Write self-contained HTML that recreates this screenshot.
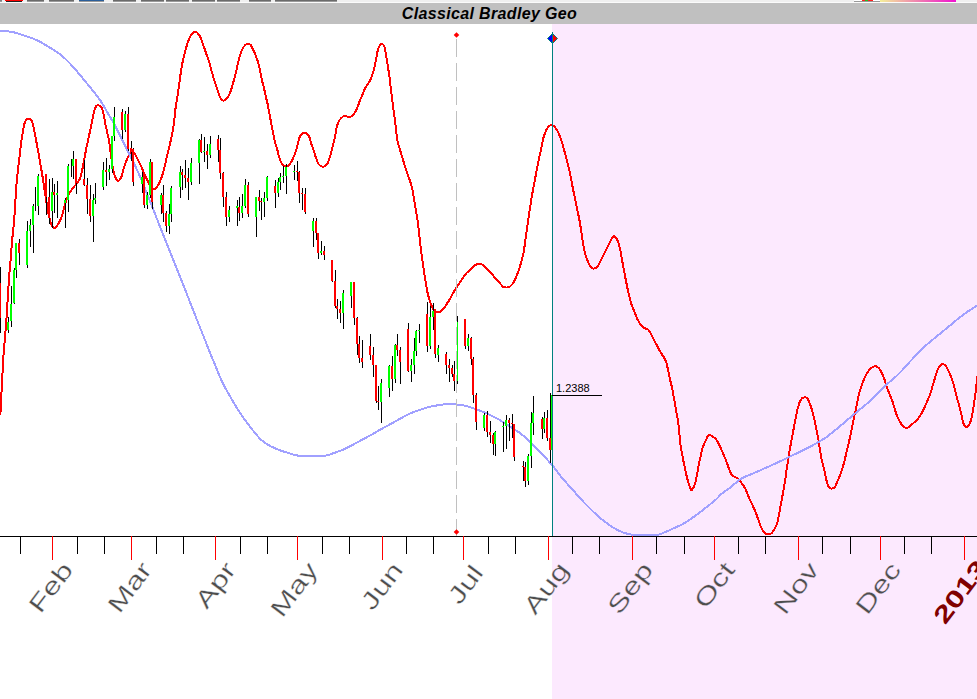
<!DOCTYPE html>
<html><head><meta charset="utf-8"><title>Classical Bradley Geo</title><style>
html,body{margin:0;padding:0;background:#fff;}
body{width:977px;height:699px;overflow:hidden;position:relative;font-family:"Liberation Sans",sans-serif;}
svg{position:absolute;left:0;top:0;display:block;}
</style></head><body>
<svg width="977" height="699" viewBox="0 0 977 699">
<g shape-rendering="crispEdges">
<rect x="0" y="0" width="977" height="2" fill="#f0f0f0"/>
<rect x="0" y="2" width="977" height="1" fill="#fbfbfb"/>
<rect x="0" y="3" width="977" height="21" fill="#c0c0c0"/>
<rect x="552" y="24" width="425" height="675" fill="#fce9fe"/>
<rect x="0" y="0" width="2" height="1" fill="#808080"/>
<rect x="0" y="1" width="2" height="1" fill="#9a9a9a"/>
<rect x="5" y="0" width="18" height="1" fill="#ff0000"/>
<rect x="6" y="1" width="16" height="1" fill="#222"/>
<rect x="27" y="0" width="17" height="1" fill="#6a6a6a"/>
<rect x="27" y="1" width="17" height="1" fill="#9a9a9a"/>
<rect x="49" y="0" width="25" height="1" fill="#6a6a6a"/>
<rect x="49" y="1" width="25" height="1" fill="#9a9a9a"/>
<rect x="79" y="0" width="25" height="1" fill="#2a5e9a"/>
<rect x="79" y="1" width="25" height="1" fill="#9a9a9a"/>
<rect x="113" y="0" width="23" height="1" fill="#6a6a6a"/>
<rect x="113" y="1" width="23" height="1" fill="#9a9a9a"/>
<rect x="141" y="0" width="23" height="1" fill="#6a6a6a"/>
<rect x="141" y="1" width="23" height="1" fill="#9a9a9a"/>
<rect x="166" y="0" width="23" height="1" fill="#6a6a6a"/>
<rect x="166" y="1" width="23" height="1" fill="#9a9a9a"/>
<rect x="192" y="0" width="23" height="1" fill="#6a6a6a"/>
<rect x="192" y="1" width="23" height="1" fill="#9a9a9a"/>
<rect x="217" y="0" width="23" height="1" fill="#6a6a6a"/>
<rect x="217" y="1" width="23" height="1" fill="#9a9a9a"/>
<rect x="249" y="0" width="22" height="1" fill="#6a6a6a"/>
<rect x="249" y="1" width="22" height="1" fill="#9a9a9a"/>
<rect x="275" y="0" width="62" height="1" fill="#6a6a6a"/>
<rect x="275" y="1" width="62" height="1" fill="#9a9a9a"/>
<rect x="854" y="0" width="26" height="2" fill="#fff"/>
<rect x="854" y="1" width="26" height="1" fill="#999"/>
<rect x="862" y="0" width="11" height="1" fill="#ff2020"/>
<rect x="865" y="0" width="3" height="1" fill="#20c020"/>
<defs><linearGradient id="gr" x1="0" x2="1"><stop offset="0" stop-color="#f4f09a"/><stop offset="0.5" stop-color="#f080b0"/><stop offset="1" stop-color="#f010d0"/></linearGradient></defs>
<rect x="880" y="0" width="76" height="2" fill="url(#gr)"/>
</g>
<text x="489.5" y="18.6" text-anchor="middle" font-family="Liberation Sans" font-weight="bold" font-style="italic" font-size="16" letter-spacing="0.35" fill="#000">Classical Bradley Geo</text>
<path d="M0.00,415.20 C0.07,414.97 0.22,416.53 0.40,413.80 C0.58,411.07 0.82,404.17 1.10,398.80 C1.38,393.43 1.75,388.07 2.10,381.60 C2.45,375.13 2.77,366.80 3.20,360.00 C3.63,353.20 4.17,347.57 4.70,340.80 C5.23,334.03 5.93,325.83 6.40,319.40 C6.87,312.97 7.13,307.93 7.50,302.20 C7.87,296.47 8.23,290.37 8.60,285.00 C8.97,279.63 9.32,274.78 9.70,270.00 C10.08,265.22 10.55,260.63 10.90,256.30 C11.25,251.97 11.47,247.97 11.80,244.00 C12.13,240.03 12.50,236.57 12.90,232.50 C13.30,228.43 13.80,224.68 14.20,219.60 C14.60,214.52 14.92,207.83 15.30,202.00 C15.68,196.17 16.13,189.27 16.50,184.60 C16.87,179.93 17.13,177.43 17.50,174.00 C17.87,170.57 18.30,167.37 18.70,164.00 C19.10,160.63 19.48,157.43 19.90,153.80 C20.32,150.17 20.72,145.83 21.20,142.20 C21.68,138.57 22.25,135.12 22.80,132.00 C23.35,128.88 23.90,125.60 24.50,123.50 C25.10,121.40 25.72,120.15 26.40,119.40 C27.08,118.65 27.85,119.00 28.60,119.00 C29.35,119.00 30.20,118.53 30.90,119.40 C31.60,120.27 32.17,121.90 32.80,124.20 C33.43,126.50 34.05,129.98 34.70,133.20 C35.35,136.42 36.05,140.07 36.70,143.50 C37.35,146.93 37.98,150.38 38.60,153.80 C39.22,157.22 39.80,160.55 40.40,164.00 C41.00,167.45 41.70,171.50 42.20,174.50 C42.70,177.50 43.03,179.58 43.40,182.00 C43.77,184.42 44.05,186.67 44.40,189.00 C44.75,191.33 45.15,193.75 45.50,196.00 C45.85,198.25 46.17,200.42 46.50,202.50 C46.83,204.58 47.15,206.58 47.50,208.50 C47.85,210.42 48.18,212.08 48.60,214.00 C49.02,215.92 49.50,218.17 50.00,220.00 C50.50,221.83 50.98,223.67 51.60,225.00 C52.22,226.33 52.97,227.62 53.70,228.00 C54.43,228.38 55.22,228.05 56.00,227.30 C56.78,226.55 57.65,224.80 58.40,223.50 C59.15,222.20 59.77,221.28 60.50,219.50 C61.23,217.72 62.10,215.17 62.80,212.80 C63.50,210.43 64.08,207.47 64.70,205.30 C65.32,203.13 65.82,201.65 66.50,199.80 C67.18,197.95 67.95,195.83 68.80,194.20 C69.65,192.57 70.67,191.32 71.60,190.00 C72.53,188.68 73.47,187.53 74.40,186.30 C75.33,185.07 76.27,183.85 77.20,182.60 C78.13,181.35 79.32,180.23 80.00,178.80 C80.68,177.37 80.88,175.72 81.30,174.00 C81.72,172.28 81.98,171.08 82.50,168.50 C83.02,165.92 83.77,161.85 84.40,158.50 C85.03,155.15 85.67,151.55 86.30,148.40 C86.93,145.25 87.57,142.55 88.20,139.60 C88.83,136.65 89.47,133.65 90.10,130.70 C90.73,127.75 91.37,124.98 92.00,121.90 C92.63,118.82 93.20,114.82 93.90,112.20 C94.60,109.58 95.42,107.35 96.20,106.20 C96.98,105.05 97.77,105.20 98.60,105.30 C99.43,105.40 100.42,105.50 101.20,106.80 C101.98,108.10 102.63,110.37 103.30,113.10 C103.97,115.83 104.57,120.05 105.20,123.20 C105.83,126.35 106.47,129.07 107.10,132.00 C107.73,134.93 108.45,137.65 109.00,140.80 C109.55,143.95 109.88,147.20 110.40,150.90 C110.92,154.60 111.50,159.25 112.10,163.00 C112.70,166.75 113.27,170.63 114.00,173.40 C114.73,176.17 115.67,178.42 116.50,179.60 C117.33,180.78 118.15,181.08 119.00,180.50 C119.85,179.92 120.82,178.10 121.60,176.10 C122.38,174.10 122.88,171.10 123.70,168.50 C124.52,165.90 125.57,162.88 126.50,160.50 C127.43,158.12 128.45,155.87 129.30,154.20 C130.15,152.53 130.82,150.78 131.60,150.50 C132.38,150.22 133.18,151.42 134.00,152.50 C134.82,153.58 135.40,154.88 136.50,157.00 C137.60,159.12 139.30,162.40 140.60,165.20 C141.90,168.00 142.98,170.92 144.30,173.80 C145.62,176.68 147.30,180.13 148.50,182.50 C149.70,184.87 150.58,186.88 151.50,188.00 C152.42,189.12 153.17,189.28 154.00,189.20 C154.83,189.12 155.58,188.62 156.50,187.50 C157.42,186.38 158.50,184.67 159.50,182.50 C160.50,180.33 161.58,177.42 162.50,174.50 C163.42,171.58 164.25,168.08 165.00,165.00 C165.75,161.92 166.33,158.83 167.00,156.00 C167.67,153.17 168.25,151.17 169.00,148.00 C169.75,144.83 170.70,140.90 171.50,137.00 C172.30,133.10 173.17,129.10 173.80,124.60 C174.43,120.10 174.73,114.43 175.30,110.00 C175.87,105.57 176.58,102.03 177.20,98.00 C177.82,93.97 178.48,89.45 179.00,85.80 C179.52,82.15 179.87,79.13 180.30,76.10 C180.73,73.07 181.12,70.43 181.60,67.60 C182.08,64.77 182.62,61.73 183.20,59.10 C183.78,56.47 184.38,54.45 185.10,51.80 C185.82,49.15 186.60,45.80 187.50,43.20 C188.40,40.60 189.28,38.13 190.50,36.20 C191.72,34.27 193.30,31.70 194.80,31.60 C196.30,31.50 198.08,33.33 199.50,35.60 C200.92,37.87 202.15,42.10 203.30,45.20 C204.45,48.30 205.38,51.28 206.40,54.20 C207.42,57.12 208.50,59.77 209.40,62.70 C210.30,65.63 210.98,68.82 211.80,71.80 C212.62,74.78 213.38,77.65 214.30,80.60 C215.22,83.55 216.32,86.68 217.30,89.50 C218.28,92.32 219.18,95.65 220.20,97.50 C221.22,99.35 222.20,100.57 223.40,100.60 C224.60,100.63 226.18,99.30 227.40,97.70 C228.62,96.10 229.72,93.58 230.70,91.00 C231.68,88.42 232.45,85.20 233.30,82.20 C234.15,79.20 235.03,76.12 235.80,73.00 C236.57,69.88 237.22,66.38 237.90,63.50 C238.58,60.62 239.18,58.02 239.90,55.70 C240.62,53.38 241.32,51.38 242.20,49.60 C243.08,47.82 244.23,45.88 245.20,45.00 C246.17,44.12 247.08,44.30 248.00,44.30 C248.92,44.30 249.75,43.92 250.70,45.00 C251.65,46.08 252.78,48.82 253.70,50.80 C254.62,52.78 255.38,54.67 256.20,56.90 C257.02,59.13 257.90,61.57 258.60,64.20 C259.30,66.83 259.80,69.87 260.40,72.70 C261.00,75.53 261.58,78.57 262.20,81.20 C262.82,83.83 263.48,85.87 264.10,88.50 C264.72,91.13 265.30,94.37 265.90,97.00 C266.50,99.63 267.13,101.63 267.70,104.30 C268.27,106.97 268.82,110.38 269.30,113.00 C269.78,115.62 270.12,117.40 270.60,120.00 C271.08,122.60 271.65,125.77 272.20,128.60 C272.75,131.43 273.32,134.37 273.90,137.00 C274.48,139.63 275.08,142.08 275.70,144.40 C276.32,146.72 276.98,148.63 277.60,150.90 C278.22,153.17 278.72,155.93 279.40,158.00 C280.08,160.07 280.77,161.93 281.70,163.30 C282.63,164.67 283.90,165.82 285.00,166.20 C286.10,166.58 287.22,166.42 288.30,165.60 C289.38,164.78 290.45,163.12 291.50,161.30 C292.55,159.48 293.67,157.08 294.60,154.70 C295.53,152.32 296.35,149.70 297.10,147.00 C297.85,144.30 298.33,140.67 299.10,138.50 C299.87,136.33 300.80,134.90 301.70,134.00 C302.60,133.10 303.52,133.07 304.50,133.10 C305.48,133.13 306.73,133.40 307.60,134.20 C308.47,135.00 309.05,136.20 309.70,137.90 C310.35,139.60 310.82,142.23 311.50,144.40 C312.18,146.57 313.02,148.57 313.80,150.90 C314.58,153.23 315.33,156.12 316.20,158.40 C317.07,160.68 317.85,163.22 319.00,164.60 C320.15,165.98 321.78,166.70 323.10,166.70 C324.42,166.70 325.88,165.83 326.90,164.60 C327.92,163.37 328.52,161.27 329.20,159.30 C329.88,157.33 330.38,155.13 331.00,152.80 C331.62,150.47 332.27,147.78 332.90,145.30 C333.53,142.82 334.18,140.87 334.80,137.90 C335.42,134.93 335.98,130.15 336.60,127.50 C337.22,124.85 337.77,123.53 338.50,122.00 C339.23,120.47 340.03,119.30 341.00,118.30 C341.97,117.30 343.03,116.25 344.30,116.00 C345.57,115.75 347.22,116.87 348.60,116.80 C349.98,116.73 351.28,116.83 352.60,115.60 C353.92,114.37 355.38,111.63 356.50,109.40 C357.62,107.17 358.35,104.58 359.30,102.20 C360.25,99.82 361.12,97.63 362.20,95.10 C363.28,92.57 364.55,89.30 365.80,87.00 C367.05,84.70 368.63,83.28 369.70,81.30 C370.77,79.32 371.43,77.33 372.20,75.10 C372.97,72.87 373.62,70.68 374.30,67.90 C374.98,65.12 375.70,61.38 376.30,58.40 C376.90,55.42 377.15,52.33 377.90,50.00 C378.65,47.67 379.75,45.07 380.80,44.40 C381.85,43.73 383.28,43.98 384.20,46.00 C385.12,48.02 385.68,53.08 386.30,56.50 C386.92,59.92 387.38,63.17 387.90,66.50 C388.42,69.83 388.92,72.93 389.40,76.50 C389.88,80.07 390.33,84.08 390.80,87.90 C391.27,91.72 391.73,95.58 392.20,99.40 C392.67,103.22 393.13,107.20 393.60,110.80 C394.07,114.40 394.57,117.63 395.00,121.00 C395.43,124.37 395.80,127.75 396.20,131.00 C396.60,134.25 396.95,138.00 397.40,140.50 C397.85,143.00 398.35,144.05 398.90,146.00 C399.45,147.95 400.03,149.98 400.70,152.20 C401.37,154.42 402.18,156.92 402.90,159.30 C403.62,161.68 404.27,164.12 405.00,166.50 C405.73,168.88 406.47,171.22 407.30,173.60 C408.13,175.98 409.20,178.42 410.00,180.80 C410.80,183.18 411.50,185.28 412.10,187.90 C412.70,190.52 413.12,193.63 413.60,196.50 C414.08,199.37 414.52,202.23 415.00,205.10 C415.48,207.97 416.03,210.83 416.50,213.70 C416.97,216.57 417.42,219.58 417.80,222.30 C418.18,225.02 418.43,226.72 418.80,230.00 C419.17,233.28 419.55,238.00 420.00,242.00 C420.45,246.00 421.00,250.25 421.50,254.00 C422.00,257.75 422.50,261.00 423.00,264.50 C423.50,268.00 424.00,271.75 424.50,275.00 C425.00,278.25 425.50,281.08 426.00,284.00 C426.50,286.92 426.90,289.78 427.50,292.50 C428.10,295.22 428.78,297.77 429.60,300.30 C430.42,302.83 431.50,305.82 432.40,307.70 C433.30,309.58 434.18,310.88 435.00,311.60 C435.82,312.32 436.50,311.97 437.30,312.00 C438.10,312.03 439.02,312.10 439.80,311.80 C440.58,311.50 441.30,310.82 442.00,310.20 C442.70,309.58 443.17,309.22 444.00,308.10 C444.83,306.98 446.00,305.02 447.00,303.50 C448.00,301.98 449.00,300.70 450.00,299.00 C451.00,297.30 451.92,295.25 453.00,293.30 C454.08,291.35 455.33,289.10 456.50,287.30 C457.67,285.50 458.58,284.58 460.00,282.50 C461.42,280.42 463.33,276.92 465.00,274.80 C466.67,272.68 468.33,271.42 470.00,269.80 C471.67,268.18 473.42,266.03 475.00,265.10 C476.58,264.17 478.17,264.22 479.50,264.20 C480.83,264.18 481.75,264.23 483.00,265.00 C484.25,265.77 485.67,267.50 487.00,268.80 C488.33,270.10 489.73,271.35 491.00,272.80 C492.27,274.25 493.25,275.93 494.60,277.50 C495.95,279.07 497.68,280.67 499.10,282.20 C500.52,283.73 501.85,285.82 503.10,286.70 C504.35,287.58 505.40,287.58 506.60,287.50 C507.80,287.42 509.13,287.05 510.30,286.20 C511.47,285.35 512.52,284.17 513.60,282.40 C514.68,280.63 515.80,278.07 516.80,275.60 C517.80,273.13 518.77,270.20 519.60,267.60 C520.43,265.00 521.12,262.60 521.80,260.00 C522.48,257.40 523.02,255.97 523.70,252.00 C524.38,248.03 525.05,242.20 525.90,236.20 C526.75,230.20 527.80,222.70 528.80,216.00 C529.80,209.30 530.87,202.12 531.90,196.00 C532.93,189.88 533.98,184.72 535.00,179.30 C536.02,173.88 537.00,168.48 538.00,163.50 C539.00,158.52 540.00,154.02 541.00,149.40 C542.00,144.78 542.87,139.47 544.00,135.80 C545.13,132.13 546.45,129.20 547.80,127.40 C549.15,125.60 550.60,124.60 552.10,125.00 C553.60,125.40 555.35,127.50 556.80,129.80 C558.25,132.10 559.43,134.90 560.80,138.80 C562.17,142.70 563.62,148.12 565.00,153.20 C566.38,158.28 567.78,163.42 569.10,169.30 C570.42,175.18 571.62,182.18 572.90,188.50 C574.18,194.82 575.65,201.62 576.80,207.20 C577.95,212.78 578.90,216.87 579.80,222.00 C580.70,227.13 581.45,233.25 582.20,238.00 C582.95,242.75 583.48,246.90 584.30,250.50 C585.12,254.10 586.12,256.95 587.10,259.60 C588.08,262.25 589.15,264.90 590.20,266.40 C591.25,267.90 592.13,268.63 593.40,268.60 C594.67,268.57 596.48,267.77 597.80,266.20 C599.12,264.63 600.07,261.60 601.30,259.20 C602.53,256.80 603.90,254.35 605.20,251.80 C606.50,249.25 607.92,246.22 609.10,243.90 C610.28,241.58 611.40,239.18 612.30,237.90 C613.20,236.62 613.62,235.77 614.50,236.20 C615.38,236.63 616.68,238.43 617.60,240.50 C618.52,242.57 619.32,245.68 620.00,248.60 C620.68,251.52 621.03,254.35 621.70,258.00 C622.37,261.65 623.22,266.33 624.00,270.50 C624.78,274.67 625.62,279.08 626.40,283.00 C627.18,286.92 627.90,290.58 628.70,294.00 C629.50,297.42 630.27,300.57 631.20,303.50 C632.13,306.43 633.25,308.97 634.30,311.60 C635.35,314.23 636.33,316.98 637.50,319.30 C638.67,321.62 640.02,323.98 641.30,325.50 C642.58,327.02 644.02,327.70 645.20,328.40 C646.38,329.10 647.35,328.60 648.40,329.70 C649.45,330.80 650.45,333.07 651.50,335.00 C652.55,336.93 653.65,339.30 654.70,341.30 C655.75,343.30 656.75,345.05 657.80,347.00 C658.85,348.95 659.95,351.23 661.00,353.00 C662.05,354.77 663.22,356.02 664.10,357.60 C664.98,359.18 665.65,360.47 666.30,362.50 C666.95,364.53 667.45,367.27 668.00,369.80 C668.55,372.33 668.95,374.80 669.60,377.70 C670.25,380.60 671.23,384.05 671.90,387.20 C672.57,390.35 673.05,393.67 673.60,396.60 C674.15,399.53 674.68,401.90 675.20,404.80 C675.72,407.70 676.18,410.97 676.70,414.00 C677.22,417.03 677.85,419.75 678.30,423.00 C678.75,426.25 679.07,430.17 679.40,433.50 C679.73,436.83 679.97,440.18 680.30,443.00 C680.63,445.82 681.02,448.12 681.40,450.40 C681.78,452.68 682.18,454.52 682.60,456.70 C683.02,458.88 683.45,461.28 683.90,463.50 C684.35,465.72 684.78,467.67 685.30,470.00 C685.82,472.33 686.38,475.08 687.00,477.50 C687.62,479.92 688.30,482.45 689.00,484.50 C689.70,486.55 690.50,489.22 691.20,489.80 C691.90,490.38 692.53,489.13 693.20,488.00 C693.87,486.87 694.57,485.17 695.20,483.00 C695.83,480.83 696.52,477.42 697.00,475.00 C697.48,472.58 697.73,470.63 698.10,468.50 C698.47,466.37 698.77,464.30 699.20,462.20 C699.63,460.10 700.23,458.00 700.70,455.90 C701.17,453.80 701.48,451.43 702.00,449.60 C702.52,447.77 703.17,446.43 703.80,444.90 C704.43,443.37 705.15,441.82 705.80,440.40 C706.45,438.98 707.05,437.28 707.70,436.40 C708.35,435.52 708.90,435.10 709.70,435.10 C710.50,435.10 711.58,435.85 712.50,436.40 C713.42,436.95 714.42,437.63 715.20,438.40 C715.98,439.17 716.53,439.92 717.20,441.00 C717.87,442.08 718.55,443.60 719.20,444.90 C719.85,446.20 720.40,447.23 721.10,448.80 C721.80,450.37 722.62,452.47 723.40,454.30 C724.18,456.13 725.07,457.95 725.80,459.80 C726.53,461.65 727.10,463.45 727.80,465.40 C728.50,467.35 729.22,469.82 730.00,471.50 C730.78,473.18 731.58,474.55 732.50,475.50 C733.42,476.45 734.50,476.62 735.50,477.20 C736.50,477.78 737.42,477.95 738.50,479.00 C739.58,480.05 740.88,481.90 742.00,483.50 C743.12,485.10 744.23,486.73 745.20,488.60 C746.17,490.47 746.92,492.60 747.80,494.70 C748.68,496.80 749.50,499.00 750.50,501.20 C751.50,503.40 752.82,505.73 753.80,507.90 C754.78,510.07 755.60,512.08 756.40,514.20 C757.20,516.32 757.78,518.33 758.60,520.60 C759.42,522.87 760.30,525.73 761.30,527.80 C762.30,529.87 763.45,531.92 764.60,533.00 C765.75,534.08 767.00,534.30 768.20,534.30 C769.40,534.30 770.68,534.00 771.80,533.00 C772.92,532.00 773.97,530.03 774.90,528.30 C775.83,526.57 776.72,524.92 777.40,522.60 C778.08,520.28 778.47,517.20 779.00,514.40 C779.53,511.60 780.07,508.67 780.60,505.80 C781.13,502.93 781.67,500.07 782.20,497.20 C782.73,494.33 783.28,491.58 783.80,488.60 C784.32,485.62 784.85,482.33 785.30,479.30 C785.75,476.27 786.07,473.37 786.50,470.40 C786.93,467.43 787.43,464.57 787.90,461.50 C788.37,458.43 788.83,454.83 789.30,452.00 C789.77,449.17 790.27,446.83 790.70,444.50 C791.13,442.17 791.52,440.00 791.90,438.00 C792.28,436.00 792.65,434.42 793.00,432.50 C793.35,430.58 793.67,428.37 794.00,426.50 C794.33,424.63 794.65,423.08 795.00,421.30 C795.35,419.52 795.72,417.68 796.10,415.80 C796.48,413.92 796.88,411.72 797.30,410.00 C797.72,408.28 798.13,406.97 798.60,405.50 C799.07,404.03 799.50,402.42 800.10,401.20 C800.70,399.98 801.48,398.83 802.20,398.20 C802.92,397.57 803.67,397.47 804.40,397.40 C805.13,397.33 805.95,397.37 806.60,397.80 C807.25,398.23 807.80,399.10 808.30,400.00 C808.80,400.90 809.12,401.95 809.60,403.20 C810.08,404.45 810.70,405.97 811.20,407.50 C811.70,409.03 812.13,410.67 812.60,412.40 C813.07,414.13 813.58,416.13 814.00,417.90 C814.42,419.67 814.73,421.22 815.10,423.00 C815.47,424.78 815.83,426.80 816.20,428.60 C816.57,430.40 816.92,431.90 817.30,433.80 C817.68,435.70 818.12,437.72 818.50,440.00 C818.88,442.28 819.22,444.97 819.60,447.50 C819.98,450.03 820.42,453.00 820.80,455.20 C821.18,457.40 821.53,459.02 821.90,460.70 C822.27,462.38 822.62,463.77 823.00,465.30 C823.38,466.83 823.82,468.28 824.20,469.90 C824.58,471.52 824.93,473.32 825.30,475.00 C825.67,476.68 826.02,478.40 826.40,480.00 C826.78,481.60 827.12,483.35 827.60,484.60 C828.08,485.85 828.58,486.83 829.30,487.50 C830.02,488.17 831.03,488.60 831.90,488.60 C832.77,488.60 833.78,488.23 834.50,487.50 C835.22,486.77 835.63,485.38 836.20,484.20 C836.77,483.02 837.33,481.73 837.90,480.40 C838.47,479.07 839.03,477.68 839.60,476.20 C840.17,474.72 840.73,473.17 841.30,471.50 C841.87,469.83 842.52,467.80 843.00,466.20 C843.48,464.60 843.80,463.43 844.20,461.90 C844.60,460.37 844.97,458.82 845.40,457.00 C845.83,455.18 846.33,453.00 846.80,451.00 C847.27,449.00 847.72,447.03 848.20,445.00 C848.68,442.97 849.22,440.88 849.70,438.80 C850.18,436.72 850.67,434.63 851.10,432.50 C851.53,430.37 851.92,428.00 852.30,426.00 C852.68,424.00 853.02,422.33 853.40,420.50 C853.78,418.67 854.20,416.83 854.60,415.00 C855.00,413.17 855.33,411.80 855.80,409.50 C856.27,407.20 856.83,403.92 857.40,401.20 C857.97,398.48 858.53,395.65 859.20,393.20 C859.87,390.75 860.55,388.98 861.40,386.50 C862.25,384.02 863.33,380.58 864.30,378.30 C865.27,376.02 866.15,374.45 867.20,372.80 C868.25,371.15 869.27,369.52 870.60,368.40 C871.93,367.28 873.77,366.08 875.20,366.10 C876.63,366.12 878.07,367.30 879.20,368.50 C880.33,369.70 881.15,371.55 882.00,373.30 C882.85,375.05 883.53,376.80 884.30,379.00 C885.07,381.20 885.73,384.02 886.60,386.50 C887.47,388.98 888.55,391.52 889.50,393.90 C890.45,396.28 891.45,398.37 892.30,400.80 C893.15,403.23 893.83,406.05 894.60,408.50 C895.37,410.95 895.95,413.17 896.90,415.50 C897.85,417.83 899.15,420.60 900.30,422.50 C901.45,424.40 902.65,426.02 903.80,426.90 C904.95,427.78 906.07,428.02 907.20,427.80 C908.33,427.58 909.45,426.48 910.60,425.60 C911.75,424.72 912.92,423.58 914.10,422.50 C915.28,421.42 916.60,420.38 917.70,419.10 C918.80,417.82 919.75,416.33 920.70,414.80 C921.65,413.27 922.37,412.03 923.40,409.90 C924.43,407.77 925.75,404.68 926.90,402.00 C928.05,399.32 929.25,396.83 930.30,393.80 C931.35,390.77 932.25,386.98 933.20,383.80 C934.15,380.62 935.05,377.50 936.00,374.70 C936.95,371.90 937.85,368.75 938.90,367.00 C939.95,365.25 941.15,364.37 942.30,364.20 C943.45,364.03 944.75,364.87 945.80,366.00 C946.85,367.13 947.65,369.02 948.60,371.00 C949.55,372.98 950.63,375.62 951.50,377.90 C952.37,380.18 953.12,382.27 953.80,384.70 C954.48,387.13 954.93,389.82 955.60,392.50 C956.27,395.18 957.07,398.08 957.80,400.80 C958.53,403.52 959.33,406.18 960.00,408.80 C960.67,411.42 961.20,414.00 961.80,416.50 C962.40,419.00 962.85,422.02 963.60,423.80 C964.35,425.58 965.37,427.03 966.30,427.20 C967.23,427.37 968.33,426.35 969.20,424.80 C970.07,423.25 970.73,421.15 971.50,417.90 C972.27,414.65 973.13,409.48 973.80,405.30 C974.47,401.12 975.03,396.42 975.50,392.80 C975.97,389.18 976.18,387.07 976.60,383.60 C977.02,380.13 977.77,373.93 978.00,372.00" fill="none" stroke="#ff0000" stroke-width="2" shape-rendering="crispEdges"/>
<path d="M-1.00,30.80 C-0.83,30.80 -2.22,30.60 0.00,30.80 C2.22,31.00 8.20,31.18 12.30,32.00 C16.40,32.82 20.50,34.33 24.60,35.70 C28.70,37.07 32.80,38.28 36.90,40.20 C41.00,42.12 45.35,44.87 49.20,47.20 C53.05,49.53 56.53,51.48 60.00,54.20 C63.47,56.92 66.67,60.03 70.00,63.50 C73.33,66.97 76.67,71.05 80.00,75.00 C83.33,78.95 86.67,83.03 90.00,87.20 C93.33,91.37 97.00,95.62 100.00,100.00 C103.00,104.38 105.37,109.00 108.00,113.50 C110.63,118.00 113.52,122.75 115.80,127.00 C118.08,131.25 119.75,135.08 121.70,139.00 C123.65,142.92 125.45,146.42 127.50,150.50 C129.55,154.58 131.92,159.17 134.00,163.50 C136.08,167.83 137.92,171.70 140.00,176.50 C142.08,181.30 144.33,186.92 146.50,192.30 C148.67,197.68 150.83,203.30 153.00,208.80 C155.17,214.30 157.33,219.82 159.50,225.30 C161.67,230.78 163.92,236.50 166.00,241.70 C168.08,246.90 170.00,251.48 172.00,256.50 C174.00,261.52 175.92,266.55 178.00,271.80 C180.08,277.05 182.33,282.52 184.50,288.00 C186.67,293.48 188.83,299.17 191.00,304.70 C193.17,310.23 195.33,315.73 197.50,321.20 C199.67,326.67 201.92,332.27 204.00,337.50 C206.08,342.73 208.07,347.82 210.00,352.60 C211.93,357.38 213.60,361.38 215.60,366.20 C217.60,371.02 219.93,377.07 222.00,381.50 C224.07,385.93 225.85,388.95 228.00,392.80 C230.15,396.65 232.73,401.02 234.90,404.60 C237.07,408.18 238.82,411.07 241.00,414.30 C243.18,417.53 245.63,420.85 248.00,424.00 C250.37,427.15 252.87,430.43 255.20,433.20 C257.53,435.97 259.43,438.43 262.00,440.60 C264.57,442.77 267.47,444.53 270.60,446.20 C273.73,447.87 277.40,449.33 280.80,450.60 C284.20,451.87 288.13,452.97 291.00,453.80 C293.87,454.63 294.83,455.20 298.00,455.60 C301.17,456.00 305.53,456.17 310.00,456.20 C314.47,456.23 321.13,456.22 324.80,455.80 C328.47,455.38 328.92,454.73 332.00,453.70 C335.08,452.67 340.27,450.85 343.30,449.60 C346.33,448.35 347.33,447.70 350.20,446.20 C353.07,444.70 357.08,442.43 360.50,440.60 C363.92,438.77 367.30,437.08 370.70,435.20 C374.10,433.32 377.48,431.22 380.90,429.30 C384.32,427.38 387.78,425.58 391.20,423.70 C394.62,421.82 398.00,419.80 401.40,418.00 C404.80,416.20 408.18,414.38 411.60,412.90 C415.02,411.42 418.48,410.20 421.90,409.10 C425.32,408.00 428.22,407.10 432.10,406.30 C435.98,405.50 441.30,404.63 445.20,404.30 C449.10,403.97 452.08,404.05 455.50,404.30 C458.92,404.55 462.30,404.98 465.70,405.80 C469.10,406.62 472.48,407.97 475.90,409.20 C479.32,410.43 482.78,411.72 486.20,413.20 C489.62,414.68 493.33,416.47 496.40,418.10 C499.47,419.73 502.17,421.48 504.60,423.00 C507.03,424.52 509.07,425.93 511.00,427.20 C512.93,428.47 514.62,429.57 516.20,430.60 C517.78,431.63 519.08,432.33 520.50,433.40 C521.92,434.47 523.28,435.77 524.70,437.00 C526.12,438.23 527.57,439.43 529.00,440.80 C530.43,442.17 531.87,443.75 533.30,445.20 C534.73,446.65 536.17,448.07 537.60,449.50 C539.03,450.93 540.47,452.30 541.90,453.80 C543.33,455.30 544.77,456.90 546.20,458.50 C547.63,460.10 549.03,461.72 550.50,463.40 C551.97,465.08 553.17,466.28 555.00,468.60 C556.83,470.92 558.52,473.73 561.50,477.30 C564.48,480.87 569.57,486.25 572.90,490.00 C576.23,493.75 578.63,496.70 581.50,499.80 C584.37,502.90 587.23,505.77 590.10,508.60 C592.97,511.43 595.60,514.13 598.70,516.80 C601.80,519.47 605.37,522.30 608.70,524.60 C612.03,526.90 615.82,529.13 618.70,530.60 C621.58,532.07 623.45,532.68 626.00,533.40 C628.55,534.12 630.67,534.58 634.00,534.90 C637.33,535.22 642.17,535.28 646.00,535.30 C649.83,535.32 654.33,535.32 657.00,535.00 C659.67,534.68 659.55,534.37 662.00,533.40 C664.45,532.43 668.65,530.55 671.70,529.20 C674.75,527.85 677.85,526.52 680.30,525.30 C682.75,524.08 684.15,523.32 686.40,521.90 C688.65,520.48 691.33,518.57 693.80,516.80 C696.27,515.03 698.75,513.17 701.20,511.30 C703.65,509.43 706.05,507.55 708.50,505.60 C710.95,503.65 713.65,501.63 715.90,499.60 C718.15,497.57 719.75,495.28 722.00,493.40 C724.25,491.52 727.33,489.87 729.40,488.30 C731.47,486.73 732.67,485.45 734.40,484.00 C736.13,482.55 738.00,480.83 739.80,479.60 C741.60,478.37 743.23,477.53 745.20,476.60 C747.17,475.67 749.47,474.88 751.60,474.00 C753.73,473.12 755.83,472.25 758.00,471.30 C760.17,470.35 762.45,469.25 764.60,468.30 C766.75,467.35 768.85,466.52 770.90,465.60 C772.95,464.68 774.07,464.13 776.90,462.80 C779.73,461.47 783.82,459.57 787.90,457.60 C791.98,455.63 797.10,453.13 801.40,451.00 C805.70,448.87 809.60,447.07 813.70,444.80 C817.80,442.53 821.90,440.27 826.00,437.40 C830.10,434.53 834.20,430.97 838.30,427.60 C842.40,424.23 846.75,420.43 850.60,417.20 C854.45,413.97 857.68,411.32 861.40,408.20 C865.12,405.08 869.08,402.12 872.90,398.50 C876.72,394.88 880.48,390.13 884.30,386.50 C888.12,382.87 892.62,379.62 895.80,376.70 C898.98,373.78 900.87,371.70 903.40,369.00 C905.93,366.30 908.48,363.18 911.00,360.50 C913.52,357.82 916.00,355.42 918.50,352.90 C921.00,350.38 923.50,347.72 926.00,345.40 C928.50,343.08 930.82,341.23 933.50,339.00 C936.18,336.77 939.25,334.33 942.10,332.00 C944.95,329.67 947.92,327.23 950.60,325.00 C953.28,322.77 955.52,320.73 958.20,318.60 C960.88,316.47 963.85,314.17 966.70,312.20 C969.55,310.23 973.42,307.97 975.30,306.80 C977.18,305.63 977.55,305.47 978.00,305.20" fill="none" stroke="#a0a0ff" stroke-width="2" shape-rendering="crispEdges"/>
<g shape-rendering="crispEdges">
<rect x="0" y="267" width="1" height="66" fill="#000"/>
<rect x="8" y="317" width="1" height="16" fill="#000"/>
<rect x="11" y="286" width="1" height="41" fill="#000"/>
<rect x="14" y="268" width="1" height="36" fill="#000"/>
<rect x="16" y="243" width="1" height="35" fill="#000"/>
<rect x="19" y="239" width="1" height="26" fill="#000"/>
<rect x="27" y="221" width="1" height="47" fill="#000"/>
<rect x="30" y="219" width="1" height="28" fill="#000"/>
<rect x="33" y="204" width="1" height="49" fill="#000"/>
<rect x="35" y="187" width="1" height="24" fill="#000"/>
<rect x="38" y="174" width="1" height="41" fill="#000"/>
<rect x="46" y="174" width="1" height="41" fill="#000"/>
<rect x="49" y="179" width="1" height="45" fill="#000"/>
<rect x="52" y="178" width="1" height="50" fill="#000"/>
<rect x="54" y="184" width="1" height="29" fill="#000"/>
<rect x="57" y="181" width="1" height="37" fill="#000"/>
<rect x="65" y="198" width="1" height="30" fill="#000"/>
<rect x="68" y="164" width="1" height="48" fill="#000"/>
<rect x="71" y="159" width="1" height="18" fill="#000"/>
<rect x="73" y="151" width="1" height="28" fill="#000"/>
<rect x="76" y="159" width="1" height="35" fill="#000"/>
<rect x="84" y="160" width="1" height="26" fill="#000"/>
<rect x="87" y="178" width="1" height="36" fill="#000"/>
<rect x="90" y="185" width="1" height="37" fill="#000"/>
<rect x="93" y="194" width="1" height="48" fill="#000"/>
<rect x="95" y="183" width="1" height="21" fill="#000"/>
<rect x="103" y="162" width="1" height="28" fill="#000"/>
<rect x="106" y="158" width="1" height="28" fill="#000"/>
<rect x="109" y="165" width="1" height="15" fill="#000"/>
<rect x="112" y="136" width="1" height="37" fill="#000"/>
<rect x="114" y="107" width="1" height="34" fill="#000"/>
<rect x="122" y="109" width="1" height="30" fill="#000"/>
<rect x="125" y="111" width="1" height="21" fill="#000"/>
<rect x="128" y="107" width="1" height="44" fill="#000"/>
<rect x="131" y="141" width="1" height="20" fill="#000"/>
<rect x="133" y="148" width="1" height="38" fill="#000"/>
<rect x="142" y="172" width="1" height="21" fill="#000"/>
<rect x="144" y="173" width="1" height="35" fill="#000"/>
<rect x="147" y="192" width="1" height="17" fill="#000"/>
<rect x="150" y="159" width="1" height="39" fill="#000"/>
<rect x="152" y="162" width="1" height="47" fill="#000"/>
<rect x="161" y="193" width="1" height="21" fill="#000"/>
<rect x="163" y="185" width="1" height="37" fill="#000"/>
<rect x="166" y="211" width="1" height="21" fill="#000"/>
<rect x="169" y="204" width="1" height="30" fill="#000"/>
<rect x="171" y="186" width="1" height="36" fill="#000"/>
<rect x="180" y="166" width="1" height="32" fill="#000"/>
<rect x="182" y="169" width="1" height="21" fill="#000"/>
<rect x="185" y="160" width="1" height="28" fill="#000"/>
<rect x="188" y="168" width="1" height="32" fill="#000"/>
<rect x="191" y="158" width="1" height="27" fill="#000"/>
<rect x="199" y="139" width="1" height="45" fill="#000"/>
<rect x="201" y="134" width="1" height="19" fill="#000"/>
<rect x="204" y="137" width="1" height="25" fill="#000"/>
<rect x="207" y="144" width="1" height="25" fill="#000"/>
<rect x="210" y="136" width="1" height="22" fill="#000"/>
<rect x="218" y="135" width="1" height="27" fill="#000"/>
<rect x="220" y="138" width="1" height="41" fill="#000"/>
<rect x="223" y="172" width="1" height="35" fill="#000"/>
<rect x="226" y="192" width="1" height="34" fill="#000"/>
<rect x="229" y="206" width="1" height="16" fill="#000"/>
<rect x="237" y="200" width="1" height="26" fill="#000"/>
<rect x="239" y="197" width="1" height="24" fill="#000"/>
<rect x="242" y="194" width="1" height="24" fill="#000"/>
<rect x="245" y="179" width="1" height="29" fill="#000"/>
<rect x="248" y="182" width="1" height="35" fill="#000"/>
<rect x="256" y="197" width="1" height="40" fill="#000"/>
<rect x="259" y="190" width="1" height="21" fill="#000"/>
<rect x="261" y="198" width="1" height="22" fill="#000"/>
<rect x="264" y="192" width="1" height="25" fill="#000"/>
<rect x="267" y="176" width="1" height="25" fill="#000"/>
<rect x="275" y="180" width="1" height="28" fill="#000"/>
<rect x="278" y="178" width="1" height="19" fill="#000"/>
<rect x="280" y="173" width="1" height="17" fill="#000"/>
<rect x="283" y="166" width="1" height="17" fill="#000"/>
<rect x="286" y="164" width="1" height="30" fill="#000"/>
<rect x="294" y="165" width="1" height="15" fill="#000"/>
<rect x="297" y="161" width="1" height="20" fill="#000"/>
<rect x="299" y="171" width="1" height="32" fill="#000"/>
<rect x="302" y="188" width="1" height="22" fill="#000"/>
<rect x="305" y="188" width="1" height="26" fill="#000"/>
<rect x="313" y="218" width="1" height="29" fill="#000"/>
<rect x="316" y="218" width="1" height="22" fill="#000"/>
<rect x="318" y="233" width="1" height="26" fill="#000"/>
<rect x="321" y="241" width="1" height="14" fill="#000"/>
<rect x="324" y="246" width="1" height="14" fill="#000"/>
<rect x="332" y="260" width="1" height="22" fill="#000"/>
<rect x="335" y="270" width="1" height="38" fill="#000"/>
<rect x="337" y="299" width="1" height="20" fill="#000"/>
<rect x="340" y="301" width="1" height="22" fill="#000"/>
<rect x="343" y="290" width="1" height="39" fill="#000"/>
<rect x="351" y="282" width="1" height="26" fill="#000"/>
<rect x="354" y="282" width="1" height="43" fill="#000"/>
<rect x="357" y="317" width="1" height="38" fill="#000"/>
<rect x="359" y="336" width="1" height="27" fill="#000"/>
<rect x="362" y="340" width="1" height="28" fill="#000"/>
<rect x="370" y="334" width="1" height="26" fill="#000"/>
<rect x="373" y="347" width="1" height="30" fill="#000"/>
<rect x="376" y="365" width="1" height="38" fill="#000"/>
<rect x="378" y="386" width="1" height="24" fill="#000"/>
<rect x="381" y="379" width="1" height="44" fill="#000"/>
<rect x="389" y="365" width="1" height="32" fill="#000"/>
<rect x="392" y="356" width="1" height="35" fill="#000"/>
<rect x="395" y="344" width="1" height="39" fill="#000"/>
<rect x="397" y="334" width="1" height="22" fill="#000"/>
<rect x="400" y="347" width="1" height="37" fill="#000"/>
<rect x="408" y="323" width="1" height="49" fill="#000"/>
<rect x="411" y="359" width="1" height="23" fill="#000"/>
<rect x="414" y="338" width="1" height="36" fill="#000"/>
<rect x="416" y="330" width="1" height="26" fill="#000"/>
<rect x="419" y="324" width="1" height="19" fill="#000"/>
<rect x="427" y="302" width="1" height="50" fill="#000"/>
<rect x="430" y="306" width="1" height="43" fill="#000"/>
<rect x="433" y="303" width="1" height="27" fill="#000"/>
<rect x="435" y="309" width="1" height="49" fill="#000"/>
<rect x="438" y="345" width="1" height="17" fill="#000"/>
<rect x="446" y="352" width="1" height="22" fill="#000"/>
<rect x="449" y="359" width="1" height="23" fill="#000"/>
<rect x="452" y="365" width="1" height="12" fill="#000"/>
<rect x="454" y="361" width="1" height="30" fill="#000"/>
<rect x="457" y="316" width="1" height="68" fill="#000"/>
<rect x="465" y="319" width="1" height="30" fill="#000"/>
<rect x="468" y="334" width="1" height="17" fill="#000"/>
<rect x="471" y="337" width="1" height="28" fill="#000"/>
<rect x="473" y="357" width="1" height="46" fill="#000"/>
<rect x="476" y="393" width="1" height="37" fill="#000"/>
<rect x="484" y="413" width="1" height="18" fill="#000"/>
<rect x="487" y="411" width="1" height="26" fill="#000"/>
<rect x="490" y="421" width="1" height="22" fill="#000"/>
<rect x="493" y="433" width="1" height="22" fill="#000"/>
<rect x="495" y="431" width="1" height="25" fill="#000"/>
<rect x="503" y="422" width="1" height="30" fill="#000"/>
<rect x="506" y="415" width="1" height="34" fill="#000"/>
<rect x="509" y="418" width="1" height="23" fill="#000"/>
<rect x="512" y="414" width="1" height="24" fill="#000"/>
<rect x="514" y="424" width="1" height="37" fill="#000"/>
<rect x="523" y="461" width="1" height="20" fill="#000"/>
<rect x="525" y="462" width="1" height="25" fill="#000"/>
<rect x="528" y="454" width="1" height="31" fill="#000"/>
<rect x="531" y="412" width="1" height="56" fill="#000"/>
<rect x="533" y="396" width="1" height="39" fill="#000"/>
<rect x="542" y="417" width="1" height="22" fill="#000"/>
<rect x="544" y="412" width="1" height="21" fill="#000"/>
<rect x="547" y="410" width="1" height="31" fill="#000"/>
<rect x="550" y="393" width="1" height="70" fill="#000"/>
<rect x="-1" y="283" width="2" height="35" fill="#ff0000"/>
<rect x="7" y="322" width="2" height="8" fill="#00ff00"/>
<rect x="10" y="304" width="2" height="17" fill="#00ff00"/>
<rect x="13" y="270" width="2" height="33" fill="#00ff00"/>
<rect x="15" y="243" width="2" height="27" fill="#00ff00"/>
<rect x="18" y="243" width="2" height="10" fill="#ff0000"/>
<rect x="26" y="231" width="2" height="34" fill="#00ff00"/>
<rect x="29" y="225" width="2" height="6" fill="#00ff00"/>
<rect x="32" y="206" width="2" height="19" fill="#00ff00"/>
<rect x="37" y="176" width="2" height="30" fill="#00ff00"/>
<rect x="45" y="174" width="2" height="23" fill="#ff0000"/>
<rect x="48" y="197" width="2" height="21" fill="#ff0000"/>
<rect x="51" y="192" width="2" height="19" fill="#00ff00"/>
<rect x="53" y="192" width="2" height="3" fill="#ff0000"/>
<rect x="56" y="193" width="2" height="2" fill="#00ff00"/>
<rect x="64" y="200" width="2" height="3" fill="#00ff00"/>
<rect x="67" y="166" width="2" height="34" fill="#00ff00"/>
<rect x="72" y="159" width="2" height="7" fill="#00ff00"/>
<rect x="75" y="159" width="2" height="24" fill="#ff0000"/>
<rect x="83" y="179" width="2" height="6" fill="#ff0000"/>
<rect x="86" y="185" width="2" height="14" fill="#ff0000"/>
<rect x="89" y="199" width="2" height="17" fill="#ff0000"/>
<rect x="92" y="200" width="2" height="16" fill="#00ff00"/>
<rect x="94" y="198" width="2" height="2" fill="#00ff00"/>
<rect x="102" y="170" width="2" height="17" fill="#00ff00"/>
<rect x="105" y="170" width="2" height="2" fill="#ff0000"/>
<rect x="108" y="169" width="2" height="3" fill="#00ff00"/>
<rect x="111" y="136" width="2" height="33" fill="#00ff00"/>
<rect x="113" y="117" width="2" height="19" fill="#00ff00"/>
<rect x="121" y="112" width="2" height="18" fill="#ff0000"/>
<rect x="124" y="114" width="2" height="16" fill="#00ff00"/>
<rect x="127" y="114" width="2" height="35" fill="#ff0000"/>
<rect x="130" y="148" width="2" height="4" fill="#ff0000"/>
<rect x="132" y="149" width="2" height="33" fill="#ff0000"/>
<rect x="141" y="177" width="2" height="7" fill="#00ff00"/>
<rect x="143" y="173" width="2" height="32" fill="#ff0000"/>
<rect x="146" y="195" width="2" height="10" fill="#00ff00"/>
<rect x="149" y="162" width="2" height="33" fill="#00ff00"/>
<rect x="151" y="162" width="2" height="40" fill="#ff0000"/>
<rect x="160" y="195" width="2" height="10" fill="#00ff00"/>
<rect x="162" y="195" width="2" height="18" fill="#ff0000"/>
<rect x="165" y="213" width="2" height="13" fill="#ff0000"/>
<rect x="168" y="214" width="2" height="12" fill="#00ff00"/>
<rect x="170" y="188" width="2" height="26" fill="#00ff00"/>
<rect x="179" y="172" width="2" height="15" fill="#00ff00"/>
<rect x="181" y="172" width="2" height="3" fill="#ff0000"/>
<rect x="184" y="175" width="2" height="3" fill="#ff0000"/>
<rect x="187" y="178" width="2" height="4" fill="#ff0000"/>
<rect x="190" y="163" width="2" height="19" fill="#00ff00"/>
<rect x="198" y="140" width="2" height="23" fill="#00ff00"/>
<rect x="200" y="140" width="2" height="12" fill="#ff0000"/>
<rect x="203" y="151" width="2" height="1" fill="#00ff00"/>
<rect x="206" y="151" width="2" height="4" fill="#ff0000"/>
<rect x="209" y="144" width="2" height="11" fill="#00ff00"/>
<rect x="217" y="139" width="2" height="11" fill="#ff0000"/>
<rect x="219" y="150" width="2" height="23" fill="#ff0000"/>
<rect x="222" y="173" width="2" height="24" fill="#ff0000"/>
<rect x="225" y="197" width="2" height="20" fill="#ff0000"/>
<rect x="228" y="210" width="2" height="7" fill="#00ff00"/>
<rect x="236" y="206" width="2" height="2" fill="#00ff00"/>
<rect x="238" y="207" width="2" height="6" fill="#ff0000"/>
<rect x="241" y="206" width="2" height="7" fill="#00ff00"/>
<rect x="244" y="185" width="2" height="21" fill="#00ff00"/>
<rect x="247" y="185" width="2" height="29" fill="#ff0000"/>
<rect x="255" y="197" width="2" height="20" fill="#00ff00"/>
<rect x="258" y="197" width="2" height="4" fill="#ff0000"/>
<rect x="260" y="201" width="2" height="1" fill="#ff0000"/>
<rect x="263" y="198" width="2" height="4" fill="#00ff00"/>
<rect x="266" y="177" width="2" height="21" fill="#00ff00"/>
<rect x="274" y="186" width="2" height="7" fill="#ff0000"/>
<rect x="277" y="182" width="2" height="11" fill="#00ff00"/>
<rect x="279" y="177" width="2" height="5" fill="#00ff00"/>
<rect x="282" y="176" width="2" height="1" fill="#00ff00"/>
<rect x="285" y="167" width="2" height="9" fill="#00ff00"/>
<rect x="293" y="171" width="2" height="1" fill="#00ff00"/>
<rect x="296" y="171" width="2" height="1" fill="#ff0000"/>
<rect x="298" y="172" width="2" height="21" fill="#ff0000"/>
<rect x="301" y="193" width="2" height="1" fill="#ff0000"/>
<rect x="304" y="194" width="2" height="18" fill="#ff0000"/>
<rect x="312" y="221" width="2" height="10" fill="#00ff00"/>
<rect x="315" y="221" width="2" height="12" fill="#ff0000"/>
<rect x="317" y="233" width="2" height="20" fill="#ff0000"/>
<rect x="320" y="251" width="2" height="2" fill="#00ff00"/>
<rect x="323" y="251" width="2" height="4" fill="#ff0000"/>
<rect x="331" y="260" width="2" height="21" fill="#ff0000"/>
<rect x="334" y="281" width="2" height="25" fill="#ff0000"/>
<rect x="336" y="306" width="2" height="3" fill="#ff0000"/>
<rect x="339" y="309" width="2" height="4" fill="#ff0000"/>
<rect x="342" y="293" width="2" height="20" fill="#00ff00"/>
<rect x="350" y="282" width="2" height="14" fill="#00ff00"/>
<rect x="353" y="282" width="2" height="36" fill="#ff0000"/>
<rect x="356" y="318" width="2" height="26" fill="#ff0000"/>
<rect x="358" y="344" width="2" height="14" fill="#ff0000"/>
<rect x="361" y="358" width="2" height="4" fill="#ff0000"/>
<rect x="369" y="346" width="2" height="9" fill="#ff0000"/>
<rect x="372" y="355" width="2" height="10" fill="#ff0000"/>
<rect x="375" y="365" width="2" height="36" fill="#ff0000"/>
<rect x="377" y="401" width="2" height="1" fill="#ff0000"/>
<rect x="380" y="383" width="2" height="19" fill="#00ff00"/>
<rect x="388" y="366" width="2" height="22" fill="#00ff00"/>
<rect x="391" y="366" width="2" height="13" fill="#ff0000"/>
<rect x="394" y="345" width="2" height="34" fill="#00ff00"/>
<rect x="396" y="345" width="2" height="5" fill="#ff0000"/>
<rect x="399" y="350" width="2" height="12" fill="#ff0000"/>
<rect x="407" y="329" width="2" height="42" fill="#ff0000"/>
<rect x="410" y="365" width="2" height="6" fill="#00ff00"/>
<rect x="413" y="351" width="2" height="14" fill="#00ff00"/>
<rect x="415" y="331" width="2" height="20" fill="#00ff00"/>
<rect x="418" y="330" width="2" height="1" fill="#00ff00"/>
<rect x="426" y="314" width="2" height="32" fill="#ff0000"/>
<rect x="429" y="317" width="2" height="29" fill="#00ff00"/>
<rect x="432" y="311" width="2" height="6" fill="#00ff00"/>
<rect x="434" y="309" width="2" height="45" fill="#ff0000"/>
<rect x="437" y="348" width="2" height="7" fill="#00ff00"/>
<rect x="445" y="354" width="2" height="11" fill="#ff0000"/>
<rect x="448" y="365" width="2" height="3" fill="#ff0000"/>
<rect x="451" y="368" width="2" height="6" fill="#ff0000"/>
<rect x="453" y="374" width="2" height="7" fill="#ff0000"/>
<rect x="464" y="319" width="2" height="27" fill="#ff0000"/>
<rect x="467" y="338" width="2" height="8" fill="#00ff00"/>
<rect x="470" y="338" width="2" height="21" fill="#ff0000"/>
<rect x="472" y="359" width="2" height="36" fill="#ff0000"/>
<rect x="475" y="395" width="2" height="27" fill="#ff0000"/>
<rect x="483" y="415" width="2" height="13" fill="#00ff00"/>
<rect x="486" y="415" width="2" height="17" fill="#ff0000"/>
<rect x="489" y="432" width="2" height="3" fill="#ff0000"/>
<rect x="492" y="435" width="2" height="9" fill="#ff0000"/>
<rect x="494" y="432" width="2" height="12" fill="#00ff00"/>
<rect x="502" y="426" width="2" height="1" fill="#00ff00"/>
<rect x="505" y="420" width="2" height="6" fill="#00ff00"/>
<rect x="508" y="420" width="2" height="3" fill="#ff0000"/>
<rect x="511" y="423" width="2" height="1" fill="#ff0000"/>
<rect x="513" y="424" width="2" height="33" fill="#ff0000"/>
<rect x="522" y="466" width="2" height="1" fill="#ff0000"/>
<rect x="524" y="467" width="2" height="14" fill="#ff0000"/>
<rect x="527" y="456" width="2" height="25" fill="#00ff00"/>
<rect x="530" y="423" width="2" height="33" fill="#00ff00"/>
<rect x="532" y="413" width="2" height="10" fill="#00ff00"/>
<rect x="541" y="419" width="2" height="10" fill="#ff0000"/>
<rect x="543" y="418" width="2" height="11" fill="#00ff00"/>
<rect x="546" y="418" width="2" height="20" fill="#ff0000"/>
<rect x="549" y="438" width="2" height="12" fill="#ff0000"/>
<rect x="551" y="395" width="1" height="55" fill="#00ff00"/>
<rect x="457" y="322" width="1" height="59" fill="#00ff00"/>
</g>
<line x1="456.5" y1="39" x2="456.5" y2="536" stroke="#c0c0c0" stroke-width="1" stroke-dasharray="18,6" shape-rendering="crispEdges"/>
<path d="M456.5,32.2 L459.3,35 L456.5,37.8 L453.7,35 Z" fill="#ff0000"/>
<path d="M456.5,529.2 L459.3,532 L456.5,534.8 L453.7,532 Z" fill="#ff0000"/>
<rect x="552" y="32" width="1" height="505" fill="#008080" shape-rendering="crispEdges"/>
<path d="M547.5,38.5 L552.5,33.5 L552.5,43.5 Z" fill="#0000ff" stroke="#008080" stroke-width="1"/>
<path d="M557.5,38.5 L552.5,33.5 L552.5,43.5 Z" fill="#ff0000" stroke="#008080" stroke-width="1"/>
<rect x="552" y="32" width="1" height="14" fill="#008080" shape-rendering="crispEdges"/>
<rect x="552" y="395" width="50" height="1" fill="#000" shape-rendering="crispEdges"/>
<text x="556" y="392" font-family="Liberation Sans" font-size="11" fill="#000">1.2388</text>
<g shape-rendering="crispEdges">
<rect x="0" y="536" width="977" height="1" fill="#000"/>
<rect x="20" y="536" width="1" height="18" fill="#000"/>
<rect x="77" y="536" width="1" height="18" fill="#000"/>
<rect x="104" y="536" width="1" height="18" fill="#000"/>
<rect x="156" y="536" width="1" height="18" fill="#000"/>
<rect x="183" y="536" width="1" height="18" fill="#000"/>
<rect x="240" y="536" width="1" height="18" fill="#000"/>
<rect x="267" y="536" width="1" height="18" fill="#000"/>
<rect x="322" y="536" width="1" height="18" fill="#000"/>
<rect x="349" y="536" width="1" height="18" fill="#000"/>
<rect x="406" y="536" width="1" height="18" fill="#000"/>
<rect x="433" y="536" width="1" height="18" fill="#000"/>
<rect x="488" y="536" width="1" height="18" fill="#000"/>
<rect x="515" y="536" width="1" height="18" fill="#000"/>
<rect x="572" y="536" width="1" height="18" fill="#000"/>
<rect x="599" y="536" width="1" height="18" fill="#000"/>
<rect x="656" y="536" width="1" height="18" fill="#000"/>
<rect x="684" y="536" width="1" height="18" fill="#000"/>
<rect x="738" y="536" width="1" height="18" fill="#000"/>
<rect x="765" y="536" width="1" height="18" fill="#000"/>
<rect x="822" y="536" width="1" height="18" fill="#000"/>
<rect x="850" y="536" width="1" height="18" fill="#000"/>
<rect x="904" y="536" width="1" height="18" fill="#000"/>
<rect x="931" y="536" width="1" height="18" fill="#000"/>
<rect x="52" y="536" width="1" height="24" fill="#ff0000"/>
<rect x="131" y="536" width="1" height="24" fill="#ff0000"/>
<rect x="215" y="536" width="1" height="24" fill="#ff0000"/>
<rect x="297" y="536" width="1" height="24" fill="#ff0000"/>
<rect x="382" y="536" width="1" height="24" fill="#ff0000"/>
<rect x="463" y="536" width="1" height="24" fill="#ff0000"/>
<rect x="548" y="536" width="1" height="24" fill="#ff0000"/>
<rect x="632" y="536" width="1" height="24" fill="#ff0000"/>
<rect x="714" y="536" width="1" height="24" fill="#ff0000"/>
<rect x="798" y="536" width="1" height="24" fill="#ff0000"/>
<rect x="880" y="536" width="1" height="24" fill="#ff0000"/>
<rect x="964" y="536" width="1" height="24" fill="#ff0000"/>
</g>
<defs><clipPath id="cl"><rect x="0" y="537" width="552" height="162"/></clipPath><clipPath id="cr"><rect x="552" y="537" width="425" height="162"/></clipPath></defs>
<text transform="translate(74,570) rotate(-53) scale(1.35,1)" text-anchor="end" font-family="Liberation Sans" font-size="24" fill="#4d4d4d" stroke="#fff" stroke-width="0.3">Feb</text>
<text transform="translate(153,570) rotate(-53) scale(1.35,1)" text-anchor="end" font-family="Liberation Sans" font-size="24" fill="#4d4d4d" stroke="#fff" stroke-width="0.3">Mar</text>
<text transform="translate(237,570) rotate(-53) scale(1.35,1)" text-anchor="end" font-family="Liberation Sans" font-size="24" fill="#4d4d4d" stroke="#fff" stroke-width="0.3">Apr</text>
<text transform="translate(319,570) rotate(-53) scale(1.35,1)" text-anchor="end" font-family="Liberation Sans" font-size="24" fill="#4d4d4d" stroke="#fff" stroke-width="0.3">May</text>
<text transform="translate(404,570) rotate(-53) scale(1.35,1)" text-anchor="end" font-family="Liberation Sans" font-size="24" fill="#4d4d4d" stroke="#fff" stroke-width="0.3">Jun</text>
<text transform="translate(484.3,573.0) rotate(-53) scale(1.35,1)" text-anchor="end" font-family="Liberation Sans" font-size="24" fill="#4d4d4d" stroke="#fff" stroke-width="0.3">Jul</text>
<g clip-path="url(#cl)"><text transform="translate(570,570) rotate(-53) scale(1.35,1)" text-anchor="end" font-family="Liberation Sans" font-size="24" fill="#4d4d4d" stroke="#fff" stroke-width="0.3">Aug</text></g>
<g clip-path="url(#cr)"><text transform="translate(570,570) rotate(-53) scale(1.35,1)" text-anchor="end" font-family="Liberation Sans" font-size="24" fill="#4d4d4d" stroke="#fce9fe" stroke-width="0.3">Aug</text></g>
<text transform="translate(654,570) rotate(-53) scale(1.35,1)" text-anchor="end" font-family="Liberation Sans" font-size="24" fill="#4d4d4d" stroke="#fce9fe" stroke-width="0.3">Sep</text>
<text transform="translate(736,570) rotate(-53) scale(1.35,1)" text-anchor="end" font-family="Liberation Sans" font-size="24" fill="#4d4d4d" stroke="#fce9fe" stroke-width="0.3">Oct</text>
<text transform="translate(820,570) rotate(-53) scale(1.35,1)" text-anchor="end" font-family="Liberation Sans" font-size="24" fill="#4d4d4d" stroke="#fce9fe" stroke-width="0.3">Nov</text>
<text transform="translate(902,570) rotate(-53) scale(1.35,1)" text-anchor="end" font-family="Liberation Sans" font-size="24" fill="#4d4d4d" stroke="#fce9fe" stroke-width="0.3">Dec</text>
<text transform="translate(988.5,568) rotate(-53) scale(1.35,1)" text-anchor="end" font-family="Liberation Sans" font-weight="bold" font-size="24" fill="#800000">2013</text>
</svg></body></html>
